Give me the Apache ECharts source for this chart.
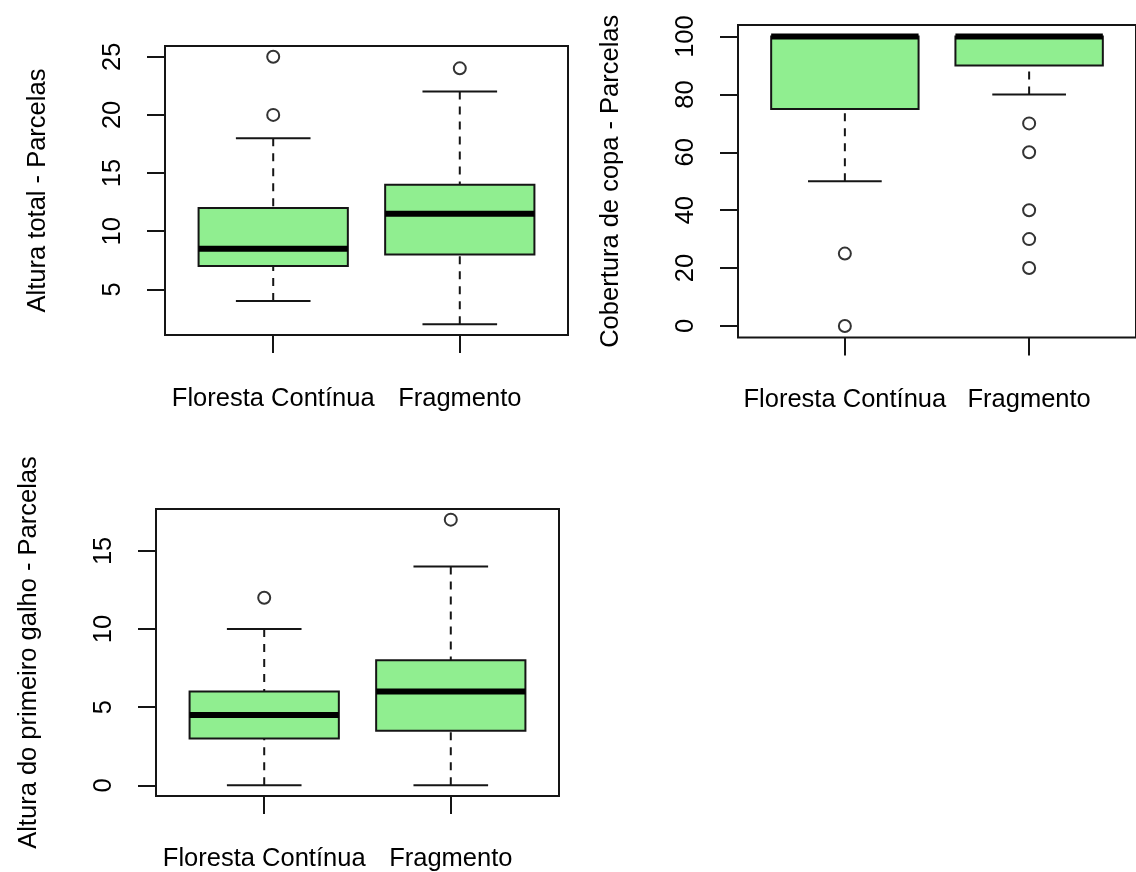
<!DOCTYPE html>
<html>
<head>
<meta charset="utf-8">
<script src="https://cdn.jsdelivr.net/npm/echarts@6/dist/echarts.min.js"></script>
<style>
html,body{margin:0;padding:0;background:#fff;}
#c{width:1136px;height:872px;}
</style>
</head>
<body>
<div id="c"></div>
<script>
// ---- data ----
const categories = ['Floresta Contínua', 'Fragmento'];

// [lowerWhisker, Q1, median, Q3, upperWhisker]
const alturaTotalStats = [[4, 7, 8.5, 12, 18], [2, 8, 11.5, 14, 22]];
const alturaTotalOutliers = [[20, 25], [24]];
const alturaTotalTicks = [5, 10, 15, 20, 25];

const coberturaStats = [[50, 75, 100, 100, 100], [80, 90, 100, 100, 100]];
const coberturaOutliers = [[0, 25], [20, 30, 40, 60, 70]];
const coberturaTicks = [0, 20, 40, 60, 80, 100];

const galhoStats = [[0, 3, 4.5, 6, 10], [0, 3.5, 6, 8, 14]];
const galhoOutliers = [[12], [17]];
const galhoTicks = [0, 5, 10, 15];

const yTitles = ['Altura total - Parcelas', 'Cobertura de copa - Parcelas', 'Altura do primeiro galho - Parcelas'];

// ---- helpers ----
const FONT = '"Liberation Sans", Arial, sans-serif';
const FS = 25.5;
const LINE = '#151515';

function rRange(stats, outs) {
  let lo = Infinity, hi = -Infinity;
  stats.forEach((s, i) => {
    lo = Math.min(lo, s[0], ...outs[i]);
    hi = Math.max(hi, s[4], ...outs[i]);
  });
  const pad = (hi - lo) * 0.04;
  return [lo - pad, hi + pad];
}

function boxData(stats) {
  return stats.map((s, i) => [i + 1].concat(s));
}
function outData(outs) {
  const d = [];
  outs.forEach((arr, i) => arr.forEach(v => d.push([i + 1, v])));
  return d;
}

function renderBox(params, api) {
  const x = api.value(0);
  const lo = api.value(1), q1 = api.value(2), med = api.value(3), q3 = api.value(4), hi = api.value(5);
  const hw = 0.4, cw = 0.2;
  const tl = api.coord([x - hw, q3]);
  const br = api.coord([x + hw, q1]);
  const mL = api.coord([x - hw, med]);
  const mR = api.coord([x + hw, med]);
  const cLo = api.coord([x, lo]);
  const cQ1 = api.coord([x, q1]);
  const cQ3 = api.coord([x, q3]);
  const cHi = api.coord([x, hi]);
  const capLoL = api.coord([x - cw, lo]), capLoR = api.coord([x + cw, lo]);
  const capHiL = api.coord([x - cw, hi]), capHiR = api.coord([x + cw, hi]);
  const wStyle = {stroke: LINE, lineWidth: 2, lineDash: [8, 7]};
  const cStyle = {stroke: LINE, lineWidth: 2};
  const children = [];
  if (Math.abs(cLo[1] - cQ1[1]) > 0.5) {
    children.push({type: 'line', shape: {x1: cLo[0], y1: cLo[1], x2: cQ1[0], y2: cQ1[1]}, style: wStyle});
  }
  if (Math.abs(cHi[1] - cQ3[1]) > 0.5) {
    children.push({type: 'line', shape: {x1: cHi[0], y1: cHi[1], x2: cQ3[0], y2: cQ3[1]}, style: wStyle});
  }
  children.push({type: 'line', shape: {x1: capLoL[0], y1: capLoL[1], x2: capLoR[0], y2: capLoR[1]}, style: cStyle});
  children.push({type: 'line', shape: {x1: capHiL[0], y1: capHiL[1], x2: capHiR[0], y2: capHiR[1]}, style: cStyle});
  children.push({type: 'rect', shape: {x: tl[0], y: tl[1], width: br[0] - tl[0], height: br[1] - tl[1]},
    style: {fill: '#90EE90', stroke: LINE, lineWidth: 2}});
  children.push({type: 'line', shape: {x1: mL[0], y1: mL[1], x2: mR[0], y2: mR[1]},
    style: {stroke: '#000', lineWidth: 6}});
  return {type: 'group', children: children};
}

const panels = [
  {stats: alturaTotalStats, outs: alturaTotalOutliers, ticks: alturaTotalTicks, xMargin: 51,
   grid: {left: 165, top: 46, width: 403, height: 289}},
  {stats: coberturaStats, outs: coberturaOutliers, ticks: coberturaTicks, xMargin: 49,
   grid: {left: 738, top: 25, width: 403, height: 312.5}},
  {stats: galhoStats, outs: galhoOutliers, ticks: galhoTicks, xMargin: 50,
   grid: {left: 156, top: 509, width: 403, height: 289}}
];

const grids = [], xAxes = [], yAxes = [], series = [];
panels.forEach((p, i) => {
  const r = rRange(p.stats, p.outs);
  grids.push(Object.assign({show: true, borderColor: LINE, borderWidth: 2, backgroundColor: 'transparent'}, p.grid));
  xAxes.push({
    type: 'value', gridIndex: i, min: 0.42, max: 2.58, position: 'bottom',
    axisLine: {show: false, onZero: false}, splitLine: {show: false},
    axisTick: {show: true, length: 18, lineStyle: {color: LINE, width: 2}, customValues: [1, 2]},
    axisLabel: {show: true, customValues: [1, 2], margin: p.xMargin, color: '#000', fontSize: FS, fontFamily: FONT,
      formatter: v => categories[Math.round(v) - 1] || ''}
  });
  yAxes.push({
    type: 'value', gridIndex: i, min: r[0], max: r[1], position: 'left',
    name: yTitles[i], nameLocation: 'middle', nameRotate: 90, nameGap: 114,
    nameTextStyle: {color: '#000', fontSize: FS, fontFamily: FONT},
    axisLine: {show: false, onZero: false}, splitLine: {show: false},
    axisTick: {show: true, length: 18, lineStyle: {color: LINE, width: 2}, customValues: p.ticks},
    axisLabel: {show: true, customValues: p.ticks, rotate: 90, margin: 39, color: '#000', fontSize: FS, fontFamily: FONT}
  });
  series.push({
    type: 'custom', xAxisIndex: i, yAxisIndex: i, renderItem: renderBox,
    data: boxData(p.stats), silent: true
  });
  series.push({
    type: 'scatter', xAxisIndex: i, yAxisIndex: i, symbol: 'circle', symbolSize: 12,
    itemStyle: {color: 'rgba(0,0,0,0)', borderColor: '#000', borderWidth: 2},
    data: outData(p.outs), silent: true
  });
});

const chart = echarts.init(document.getElementById('c'), null, {renderer: 'canvas'});
chart.setOption({
  animation: false,
  backgroundColor: '#fff',
  textStyle: {fontFamily: FONT},
  grid: grids, xAxis: xAxes, yAxis: yAxes, series: series
});
</script>
</body>
</html>
